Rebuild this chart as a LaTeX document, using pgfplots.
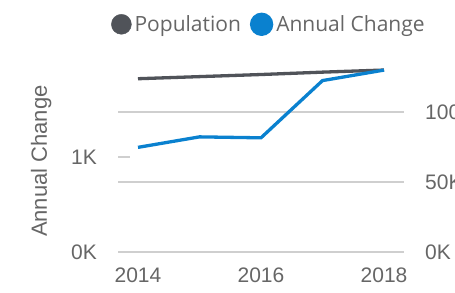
\documentclass[border=0pt]{standalone}
\usepackage{fontspec}
\setmainfont{Liberation Sans}
\newfontfamily\legfont{Open Sans}
\usepackage{pgfplots}
\pgfplotsset{compat=1.18}
\definecolor{popgray}{HTML}{505359}
\definecolor{acblue}{HTML}{0A81CF}
\definecolor{txtgray}{HTML}{666666}
\definecolor{gridgray}{HTML}{CFCFCF}
\pgfplotsset{
  dotlegend/.style={legend image code/.code={\fill[##1] (0pt,0pt) circle (10pt);}},
  base/.style={
    at={(118pt,-252.3pt)}, anchor=south west,
    width=286pt, height=190.8pt, scale only axis,
    xmin=2013.675, xmax=2018.325,
    axis line style={draw=none},
    /pgf/number format/assume math mode=true,
    tick label style={font=\fontsize{21}{24}\selectfont, text=txtgray},
  }
}
\begin{document}
\begin{tikzpicture}
\useasboundingbox (0pt,0pt) rectangle (455pt,-292pt);
% right axis: Population
\begin{axis}[base,
  ymin=0, ymax=136300,
  xtick=\empty,
  ytick={0,50000,100000}, yticklabels={0K,50K,100K},
  scaled y ticks=false,
  ymajorgrids, grid style={gridgray, line width=1.8pt},
  major tick length=0pt,
  yticklabel pos=right,
  yticklabel style={anchor=west, inner sep=0pt, xshift=21pt},
]
\addplot[color=popgray, line width=3.3pt] coordinates {(2014,124000)(2015,125500)(2016,127000)(2017,128700)(2018,130200)};
\end{axis}
% left axis: Annual Change
\begin{axis}[base, dotlegend,
  ymin=0, ymax=2000,
  ytick={0,1000}, yticklabels={0K,1K},
  xtick={2014,2016,2018}, xticklabels={2014,2016,2018},
  xtick style={draw=none},
  ytick style={gridgray, line width=1.8pt},
  tick align=inside, major tick length=12pt,
  ytick pos=left,
  yticklabel style={anchor=east, inner sep=0pt, xshift=-21pt},
  xticklabel style={anchor=north, inner sep=0pt, yshift=-15.2pt},
  ylabel={Annual Change},
  ylabel style={at={(axis description cs:-0.269,0.478)}, anchor=center, font=\fontsize{22}{24}\selectfont, text=txtgray},
  legend style={at={(axis description cs:-0.0245,1.195)}, anchor=west, draw=none, fill=none,
    inner sep=0pt, font=\legfont\fontsize{21}{24}\selectfont, text=txtgray,
    legend columns=2, nodes={inner xsep=3pt},
    /tikz/every even column/.append style={column sep=6pt}},
]
\addlegendimage{color=popgray}
\addlegendentry{Population}
\addplot[color=acblue, line width=3.3pt] coordinates {(2014,1100)(2015,1210)(2016,1200)(2017,1800)(2018,1910)};
\addlegendentry{Annual Change}
\end{axis}
\end{tikzpicture}
\end{document}
